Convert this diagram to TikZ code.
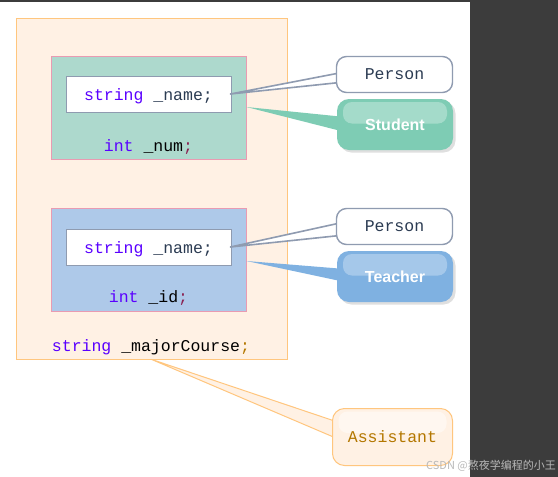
\documentclass[tikz,border=0pt]{standalone}
\usepackage{fontspec}
\setmainfont{Liberation Sans}
\setsansfont{Liberation Sans}
\setmonofont{Liberation Mono}
\newfontfamily\cjkfont{Noto Sans CJK SC}
\usetikzlibrary{positioning,calc,shadows}
\definecolor{PeachFill}{HTML}{FFF1E4}
\definecolor{PeachLine}{HTML}{FFC67E}
\definecolor{MintFill}{HTML}{ADD9CD}
\definecolor{SkyFill}{HTML}{AEC9E9}
\definecolor{PinkLine}{HTML}{E99BB2}
\definecolor{SlateLine}{HTML}{8F9BB0}
\definecolor{SlateText}{HTML}{2B3B52}
\definecolor{KeyViolet}{HTML}{5A00FF}
\definecolor{SemiMaroon}{HTML}{8B2252}
\definecolor{StudentGreen}{HTML}{7ECCB4}
\definecolor{TeacherBlue}{HTML}{7FB1E1}
\definecolor{AssistBrown}{HTML}{B37700}
\definecolor{PanelGray}{HTML}{3C3C3C}
\newcommand{\codefont}{\ttfamily\fontsize{16.5}{18}\selectfont}
\newcommand{\kw}[1]{{\color{KeyViolet}#1}}

\begin{document}
\begin{tikzpicture}[x=1pt,y=-1pt,
  outer/.style={draw=PeachLine,fill=PeachFill,line width=0.8pt,minimum width=271pt,minimum height=341pt,inner sep=0pt},
  panel/.style={draw=PinkLine,line width=0.8pt,minimum width=195pt,minimum height=103pt,inner sep=0pt},
  field/.style={draw=SlateLine,fill=white,line width=0.8pt,minimum width=165pt,minimum height=36pt,inner sep=0pt},
  code/.style={font=\codefont,text=black,inner sep=0pt},
  callout/.style={draw=SlateLine,line width=1.4pt,fill=white,rounded corners=10pt,minimum width=116pt,minimum height=36pt,font=\codefont,text=SlateText},
  role/.style={fill=#1,rounded corners=12pt,minimum width=116pt,minimum height=51pt,
    font=\sffamily\bfseries\fontsize{16}{18}\selectfont,text=white,
    drop shadow={shadow xshift=2.5pt,shadow yshift=-2.5pt,opacity=0.25,fill=gray},
    path picture={\fill[white,opacity=0.3,rounded corners=9pt]
      ([xshift=6pt,yshift=-3pt]path picture bounding box.north west) rectangle
      ([xshift=-6pt,yshift=1pt]path picture bounding box.east);}},
  wedge/.style={line width=1.6pt,line join=round}]
 \useasboundingbox (0,0) rectangle (558,477);
 \fill[white] (0,0) rectangle (470,477);
 \fill[PanelGray] (470,0) rectangle (558,477);
 \fill[PanelGray] (0,0) rectangle (470,1.5);
 % class boxes
 \node[outer] (assistBox) at (151.5,188.5) {};
 \node[panel,fill=MintFill] (stuBox) at (148.5,107.5) {};
 \node[field] (stuName) at (148.5,94) {};
 \node[code] at (148.5,96) {\kw{string} {\color{SlateText}\_name;}};
 \node[code] (stuNum) at (148.5,147) {\kw{int} \_num{\color{SemiMaroon};}};
 \node[panel,fill=SkyFill] (teaBox) at (148.5,259.5) {};
 \node[field] (teaName) at (148.5,247) {};
 \node[code] at (148.5,249) {\kw{string} {\color{SlateText}\_name;}};
 \node[code] (teaId) at (148.5,298) {\kw{int} \_id{\color{SemiMaroon};}};
 \node[code] (major) at (151,347) {\kw{string} \_majorCourse{\color{AssistBrown};}};
 % pointers
 \coordinate (tip1) at ([xshift=-1pt]stuName.east);
 \coordinate (tip2) at ([yshift=0.5pt]stuBox.east);
 \coordinate (tip3) at ([xshift=-1pt]teaName.east);
 \coordinate (tip4) at ([yshift=-1.5pt]teaBox.east);
 \coordinate (tip5) at (assistBox.south);
 \path (394.5,74.5) coordinate (p1) (395,124.5) coordinate (p2)
       (394.5,226.5) coordinate (p3) (395,276.5) coordinate (p4) (392.5,437) coordinate (p5);
 \draw[wedge,SlateLine,fill=white] (tip1) -- ($(p1)+(-50,-2.5)$) -- ($(p1)+(-50,7.5)$) -- cycle;
 \fill[StudentGreen] (tip2) -- ($(p2)+(-50,-7.5)$) -- ($(p2)+(-50,7.5)$) -- cycle;
 \draw[wedge,SlateLine,fill=white] (tip3) -- ($(p3)+(-50,-4.5)$) -- ($(p3)+(-50,8.5)$) -- cycle;
 \fill[TeacherBlue] (tip4) -- ($(p4)+(-50,-7.5)$) -- ($(p4)+(-50,5.5)$) -- cycle;
 \draw[line width=1pt,line join=round,PeachLine,fill=PeachFill] (tip5) -- ($(p5)+(-52,-14)$) -- ($(p5)+(-52,3)$) -- cycle;
 % callouts
 \node[callout] (person1) at (p1) {Person};
 \node[role=StudentGreen] (student) at (p2) {Student};
 \node[callout] (person2) at (p3) {Person};
 \node[role=TeacherBlue] (teacher) at (p4) {Teacher};
 \node[draw=PeachLine,line width=1pt,fill=PeachFill,rounded corners=12pt,minimum width=120pt,minimum height=57pt,
   font=\codefont,text=AssistBrown,
   path picture={\fill[white,opacity=0.45,rounded corners=9pt]
     ([xshift=6pt,yshift=-3pt]path picture bounding box.north west) rectangle
     ([xshift=-6pt,yshift=4pt]path picture bounding box.east);}] (assistant) at (p5) {Assistant};
 \node[font=\cjkfont\fontsize{11}{12}\selectfont,text=gray!55] (mark) at (491,466) {CSDN @熬夜学编程的小王};
\end{tikzpicture}
\end{document}
